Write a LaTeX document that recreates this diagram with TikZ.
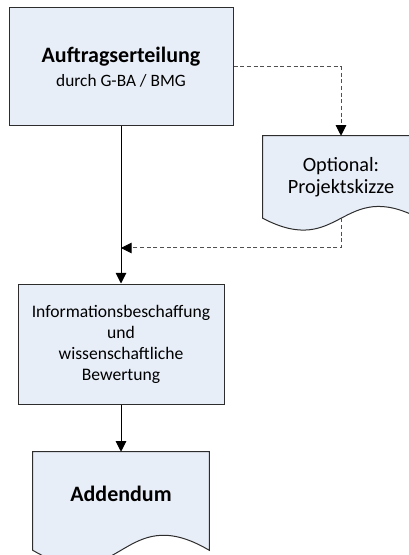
\documentclass[tikz,border=0pt]{standalone}
\usepackage{fontspec}
\setmainfont{Carlito}
\usetikzlibrary{arrows.meta,positioning,calc}

\definecolor{boxfill}{RGB}{232,238,248}
\definecolor{boxline}{RGB}{45,45,45}
\definecolor{dashline}{RGB}{80,80,80}

\pgfdeclarelayer{background}
\pgfsetlayers{background,main}

\tikzset{
  process/.style={draw=boxline, fill=boxfill, line width=0.75pt, align=center, inner sep=0pt},
  docbox/.style={align=center, inner sep=0pt},
  docshape/.style={draw=boxline, fill=boxfill, line width=0.75pt},
  flow/.style={-{Triangle[width=8pt,length=8pt,color=black]}, line width=0.75pt},
  option/.style={flow, draw=dashline, dash pattern=on 3pt off 2pt}
}

\begin{document}
\begin{tikzpicture}[x=0.75pt,y=-0.75pt]
  \clip (0,0) rectangle (409,555);

  % steps
  \node[process, minimum width=168pt, minimum height=88.5pt,
        font=\fontsize{13}{16.5}\selectfont] (auftrag) at (121,67)
    {{\fontsize{16.5}{20}\selectfont\bfseries Auftragserteilung}\\[1pt]
     durch G-BA / BMG};
  \node[process, minimum width=154.5pt, minimum height=90pt,
        font=\fontsize{13.2}{15.75}\selectfont] (bewertung) at (121,344)
    {Informationsbeschaffung\\und\\wissenschaftliche\\Bewertung};

  % documents
  \node[docbox, minimum width=117pt, minimum height=61.5pt,
        font=\fontsize{15.2}{16.5}\selectfont] (skizze) at (341,177)
    {Optional:\\Projektskizze};
  \node[docbox, minimum width=132pt, minimum height=63pt,
        font=\fontsize{16.5}{20}\selectfont\bfseries] (addendum) at (121,494)
    {Addendum};

  \begin{pgfonlayer}{background}
    \path[docshape] (skizze.north west) -- (skizze.north east) -- (skizze.south east)
      .. controls ($(skizze.south)+(0,-41)$) and ($(skizze.south)+(0,41)$) .. (skizze.south west) -- cycle;
    \path[docshape] (addendum.north west) -- (addendum.north east) -- ($(addendum.south east)+(0,14)$)
      .. controls ($(addendum.south)+(0,-38)$) and ($(addendum.south)+(0,66)$) .. ($(addendum.south west)+(0,14)$) -- cycle;
  \end{pgfonlayer}

  \coordinate (merge) at (121,248);

  % connectors
  \draw[flow] (auftrag) -- (bewertung);
  \draw[flow] (bewertung) -- (addendum);
  \draw[option] (auftrag.east) -| (skizze.north);
  \draw[option] (skizze.south) |- (merge);
\end{tikzpicture}
\end{document}
